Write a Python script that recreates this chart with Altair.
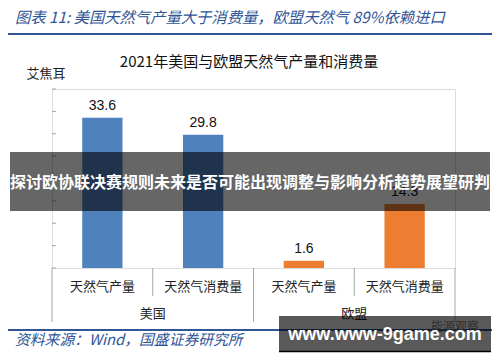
import altair as alt
import pandas as pd

# ---- data ----
ids = ["美国-产量", "美国-消费量", "欧盟-产量", "欧盟-消费量"]
groups = ["美国", "美国", "欧盟", "欧盟"]
items = ["天然气产量", "天然气消费量", "天然气产量", "天然气消费量"]
values = [33.6, 29.8, 1.6, 14.3]
y_ticks = [0, 5, 10, 15, 20, 25, 30, 35, 40]
group_names = ["美国", "欧盟"]
group_first_ids = ["美国-产量", "欧盟-产量"]

header = "图表 11:  美国天然气产量大于消费量，欧盟天然气 89%依赖进口"
title = "2021年美国与欧盟天然气产量和消费量"
unit = "艾焦耳"
footer = "资料来源：Wind，国盛证券研究所"
banner = "探讨欧协联决赛规则未来是否可能出现调整与影响分析趋势展望研判"
watermark = "www.www-9game.com"
watermark_bg = "能源观察"

df = pd.DataFrame({"id": ids, "group": groups, "item": items, "v": values})
tick_df = pd.DataFrame({"t": y_ticks})
grp_df = pd.DataFrame({"id": group_first_ids, "g": group_names})
one = alt.Data(values=[{"a": 1}])

CJK = "Noto Sans CJK SC"
BLUE_HDR = "#2f5597"
GRAY = "#a6a6a6"

xs = alt.Scale(domain=ids, paddingInner=0, paddingOuter=0)
ys = alt.Scale(domain=[0, 40])

bars = alt.Chart(df).mark_bar(width={"band": 0.4}).encode(
    x=alt.X("id:N", sort=ids, scale=xs,
            axis=alt.Axis(labels=False, ticks=False, title=None, domainColor=GRAY, domainWidth=1)),
    y=alt.Y("v:Q", scale=ys,
            axis=alt.Axis(values=y_ticks, ticks=False, labelPadding=12, title=None, grid=False,
                          domainColor=GRAY, labelFontSize=14, labelColor="#222",
                          labelFont="Liberation Sans")),
    color=alt.Color("group:N", scale=alt.Scale(domain=["美国", "欧盟"], range=["#4f81bd", "#ed7d31"]),
                    legend=None),
)

vlabels = alt.Chart(df).mark_text(baseline="bottom", dy=-5, fontSize=14, font="Liberation Sans",
                                  color="#111").encode(
    x=alt.X("id:N", sort=ids, scale=xs, axis=None),
    y=alt.Y("v:Q", scale=ys, axis=None),
    text=alt.Text("v:Q", format=".1f"),
)

yticks = alt.Chart(tick_df).mark_rule(color=GRAY).encode(
    x=alt.value(0), x2=alt.value(4),
    y=alt.Y("t:Q", scale=ys, axis=None),
)

cat_labels = alt.Chart(df).mark_text(fontSize=13, font=CJK, color="#222", baseline="middle").encode(
    x=alt.X("id:N", sort=ids, scale=xs, axis=None),
    y=alt.value(198),
    text="item:N",
)

grp_labels = alt.Chart(grp_df).mark_text(fontSize=13, font=CJK, color="#222", baseline="middle").encode(
    x=alt.X("id:N", sort=ids, scale=xs, axis=None, bandPosition=1),
    y=alt.value(225),
    text="g:N",
)

long_left = alt.Chart(grp_df).mark_rule(color=GRAY).encode(
    x=alt.X("id:N", sort=ids, scale=xs, axis=None, bandPosition=0),
    y=alt.value(179), y2=alt.value(233),
)
long_right = alt.Chart(df[df["id"] == ids[-1]]).mark_rule(color=GRAY).encode(
    x=alt.X("id:N", sort=ids, scale=xs, axis=None, bandPosition=1),
    y=alt.value(179), y2=alt.value(233),
)
short_rules = alt.Chart(df[df["item"] == "天然气消费量"]).mark_rule(color=GRAY).encode(
    x=alt.X("id:N", sort=ids, scale=xs, axis=None, bandPosition=0),
    y=alt.value(179), y2=alt.value(207),
)

hdr = alt.Chart(one).mark_text(align="left", baseline="middle", fontSize=15.3, font=CJK,
                               fontStyle="italic", color=BLUE_HDR).encode(
    x=alt.value(-37), y=alt.value(-71), text=alt.value(header))
hdr_line = alt.Chart(one).mark_rule(color=BLUE_HDR, strokeWidth=2).encode(
    x=alt.value(-49), x2=alt.value(445), y=alt.value(-55))
ttl = alt.Chart(one).mark_text(align="center", baseline="middle", fontSize=15, font=CJK,
                               color="#111").encode(
    x=alt.value(197), y=alt.value(-27), text=alt.value(title))
unit_t = alt.Chart(one).mark_text(align="center", baseline="middle", fontSize=13, font=CJK,
                                  color="#222").encode(
    x=alt.value(-6), y=alt.value(-15), text=alt.value(unit))
ftr_line = alt.Chart(one).mark_rule(color=BLUE_HDR, strokeWidth=2).encode(
    x=alt.value(-49), x2=alt.value(445), y=alt.value(241))
ftr = alt.Chart(one).mark_text(align="left", baseline="middle", fontSize=14.8, font=CJK,
                               fontStyle="italic", color=BLUE_HDR).encode(
    x=alt.value(-37), y=alt.value(252), text=alt.value(footer))

ban_rect = alt.Chart(one).mark_rect(color="black", opacity=0.6).encode(
    x=alt.value(-42), x2=alt.value(438), y=alt.value(63), y2=alt.value(122))
ban_text = alt.Chart(one).mark_text(align="center", baseline="middle", fontSize=16, font=CJK,
                                    fontWeight="bold", color="white").encode(
    x=alt.value(198), y=alt.value(94), text=alt.value(banner))

wm_bg = alt.Chart(one).mark_text(align="center", baseline="middle", fontSize=12, font=CJK,
                                 color="#8a8a8a").encode(
    x=alt.value(403), y=alt.value(238), text=alt.value(watermark_bg))
wm_rect = alt.Chart(one).mark_rect(color="black", opacity=0.65).encode(
    x=alt.value(227), x2=alt.value(439), y=alt.value(227), y2=alt.value(263))
wm_line = alt.Chart(one).mark_rule(color="black", strokeWidth=1.5).encode(
    x=alt.value(227), x2=alt.value(439), y=alt.value(262.5))
wm_text = alt.Chart(one).mark_text(align="center", baseline="middle", fontSize=18,
                                   font="Liberation Sans", fontWeight="bold", color="white").encode(
    x=alt.value(333), y=alt.value(246), text=alt.value(watermark))

chart = alt.layer(
    bars, vlabels, yticks, cat_labels, grp_labels, long_left, long_right, short_rules,
    hdr, hdr_line, ttl, unit_t, ftr_line, ftr,
    ban_rect, ban_text, wm_bg, wm_rect, wm_line, wm_text,
).properties(
    width=403, height=179,
    padding={"left": 44, "top": 81, "right": 37, "bottom": 86},
    autosize=alt.AutoSizeParams(type="none"),
).configure_view(stroke=None).configure(background="white")

chart.save("out.html", embed_options={"renderer": "svg", "actions": False})
